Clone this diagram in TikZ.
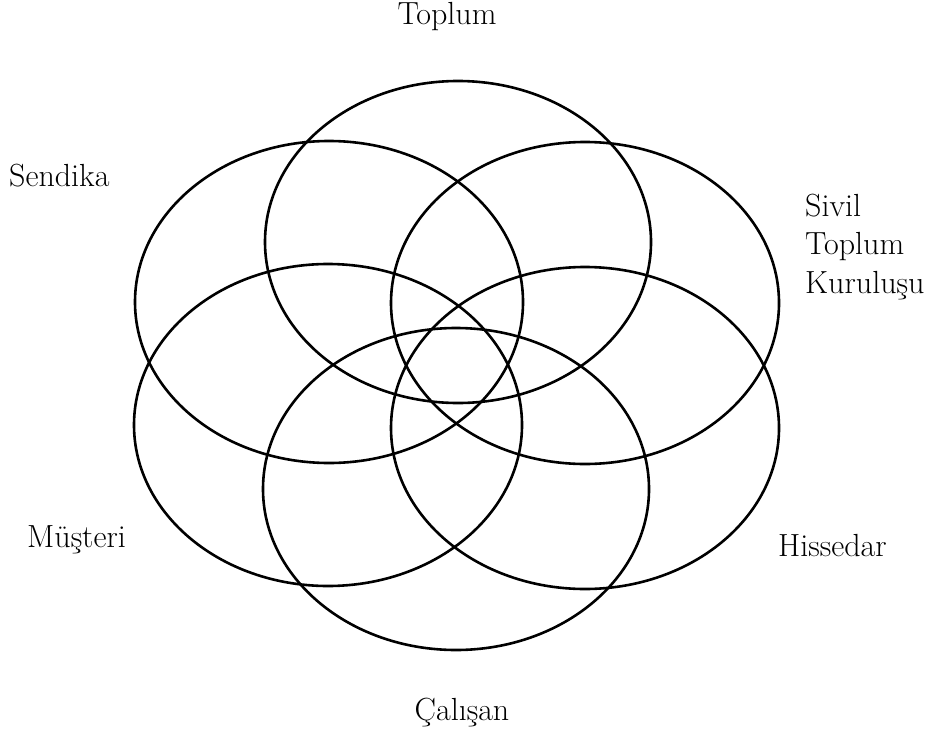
\documentclass[tikz,border=0pt]{standalone}
\usepackage{fontspec}
\begin{document}
\begin{tikzpicture}[x=1pt,y=-1pt,
  ring/.style={line width=2.6pt, draw=black},
  lbl/.style={font=\fontsize{32}{38}\selectfont, inner sep=0pt}]
\useasboundingbox[fill=white] (0,0) rectangle (928,733);
% six overlapping ellipses
\draw[ring] (458,242) ellipse [x radius=193pt, y radius=161pt];
\draw[ring] (456,489) ellipse [x radius=193pt, y radius=161pt];
\draw[ring] (329,302) ellipse [x radius=194pt, y radius=161pt];
\draw[ring] (585,303) ellipse [x radius=194pt, y radius=161pt];
\draw[ring] (328,425) ellipse [x radius=194pt, y radius=161pt];
\draw[ring] (585,428) ellipse [x radius=194pt, y radius=161pt];
% labels
\node[lbl, anchor=base] (toplum) at (447,25) {Toplum};
\node[lbl, anchor=base west] (sendika) at (9,186) {Sendika};
\node[lbl, anchor=base west] (sivil) at (805,216) {Sivil};
\node[lbl, anchor=base west] (toplumb) at (805,254) {Toplum};
\node[lbl, anchor=base west] (kurulus) at (805,293) {Kuruluşu};
\node[lbl, anchor=base west] (musteri) at (27,547) {Müşteri};
\node[lbl, anchor=base west] (hissedar) at (778,556) {Hissedar};
\node[lbl, anchor=base] (calisan) at (462,720) {Çalışan};
\end{tikzpicture}
\end{document}
